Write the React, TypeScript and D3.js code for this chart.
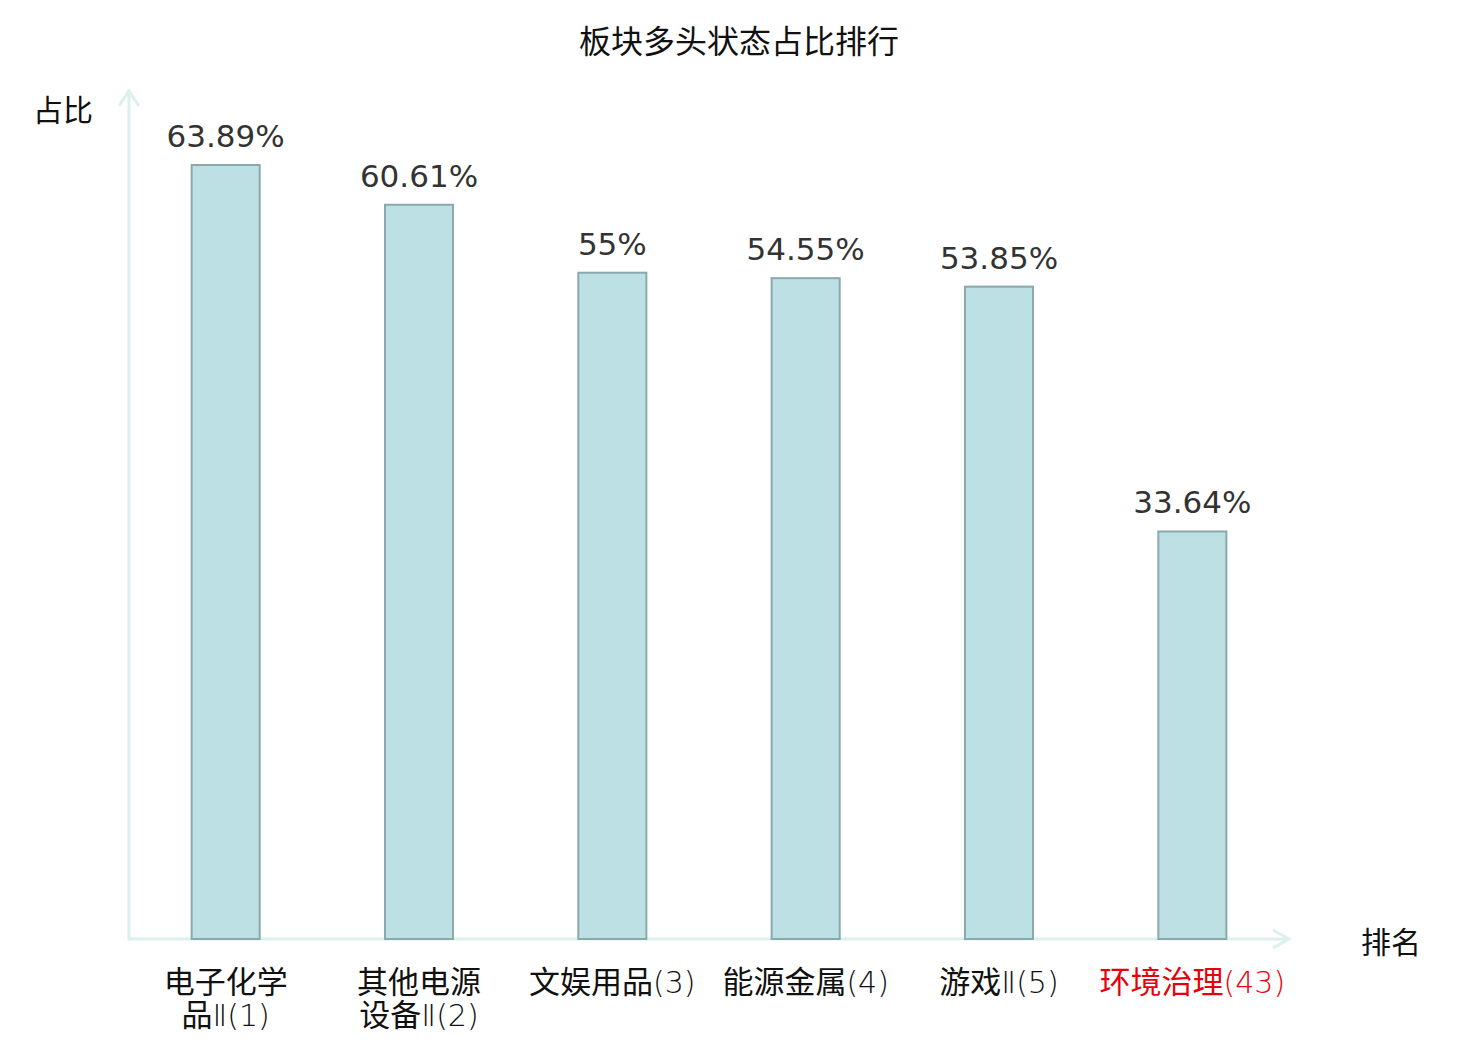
import * as d3 from "d3";

const title = "板块多头状态占比排行";
const yAxisLabel = "占比";
const xAxisLabel = "排名";
const sectors = ["电子化学品Ⅱ", "其他电源设备Ⅱ", "文娱用品", "能源金属", "游戏Ⅱ", "环境治理"];
const ranks = [1, 2, 3, 4, 5, 43];
const shares = [63.89, 60.61, 55, 54.55, 53.85, 33.64];
const highlightRank = 43;

const W = 1480;
const H = 1040;
const cjk = "'Noto Sans CJK SC', 'Noto Sans', sans-serif";
const thin = "'DejaVu Sans', sans-serif";
const axisColor = "#dcf1ee";

export default function App() {
  const x0 = 129;
  const x1 = 1289;
  const base = 939;

  const x = d3.scaleBand<number>()
    .domain(shares.map((_, i) => i))
    .range([x0, x1])
    .padding(0);
  const y = d3.scaleLinear().domain([0, 70]).range([base, 91]);
  const barW = x.bandwidth() * 0.352;

  return (
    <svg width={W} height={H} style={{ position: "absolute", left: 0, top: 0, background: "#fff" }}>
      <text x={739} y={53} textAnchor="middle" fontFamily={cjk} fontSize={32} fill="#111">{title}</text>

      {/* axes */}
      <line x1={x0} y1={base + 1} x2={x0} y2={90} stroke={axisColor} strokeWidth={3} />
      <polyline points={`${x0 - 10},106 ${x0},91 ${x0 + 10},106`} fill="none" stroke={axisColor} strokeWidth={3} />
      <line x1={x0 - 1} y1={base} x2={1289} y2={base} stroke={axisColor} strokeWidth={3} />
      <polyline points={`1273,930 1289,939 1273,948`} fill="none" stroke={axisColor} strokeWidth={3} />

      <text x={63} y={121} textAnchor="middle" fontFamily={cjk} fontSize={30} fill="#111">{yAxisLabel}</text>
      <text x={1391} y={953} textAnchor="middle" fontFamily={cjk} fontSize={30} fill="#111">{xAxisLabel}</text>

      {shares.map((v, i) => {
        const cx = x(i)! + x.bandwidth() / 2;
        return (
          <g key={i}>
            <rect x={cx - barW / 2} y={y(v)} width={barW} height={base - y(v)}
              fill="#bce0e3" stroke="#8aa9ab" strokeWidth={2} />
            <text x={cx} y={y(v) - 18} textAnchor="middle" fontFamily="'DejaVu Sans', sans-serif"
              fontSize={31} fill="#333">{`${v}%`}</text>
          </g>
        );
      })}

      {sectors.map((name, i) => {
        const cx = x(i)! + x.bandwidth() / 2;
        const color = ranks[i] === highlightRank ? "#e8000b" : "#111";
        // split the roman numeral off: it is drawn in the thin face with the rank
        const roman = name.replace(/[^Ⅱ]/g, "");
        const core = name.replace(/Ⅱ/g, "");
        const wrap = name.length > 4;
        const head = wrap ? core.slice(0, 4) : core;
        const tail = wrap ? core.slice(4) : "";
        const suffix = `${roman}(${ranks[i]})`;
        const suffixSpan = (
          <tspan fontFamily={thin} fontWeight={200} fontSize={30}>{suffix}</tspan>
        );
        return wrap ? (
          <g key={i}>
            <text x={cx} y={993} textAnchor="middle" fontFamily={cjk} fontSize={31} fill={color}>{head}</text>
            <text x={cx} y={1026} textAnchor="middle" fontFamily={cjk} fontSize={31} fill={color}>
              {tail}{suffixSpan}
            </text>
          </g>
        ) : (
          <text key={i} x={cx} y={993} textAnchor="middle" fontFamily={cjk} fontSize={31} fill={color}>
            {head}{suffixSpan}
          </text>
        );
      })}
    </svg>
  );
}
